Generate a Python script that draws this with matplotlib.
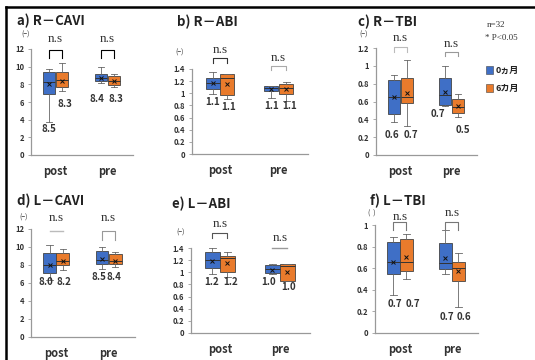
import numpy as np
import matplotlib
matplotlib.use('Agg')
import matplotlib.pyplot as plt
from matplotlib.ticker import FuncFormatter

plt.rcParams['font.family'] = ['Noto Sans CJK JP', 'DejaVu Sans']

# box stats: (whislo, q1, median, q3, whishi, mean)
# order: post 0m, post 6m, pre 0m, pre 6m
r_cavi = [(3.7, 6.9, 8.3, 9.4, 9.7, 8.0), (7.3, 7.7, 8.5, 9.4, 10.4, 8.4),
          (8.2, 8.4, 8.7, 9.2, 10.0, 8.7), (7.7, 7.9, 8.4, 9.0, 9.2, 8.4)]
r_abi = [(0.99, 1.07, 1.17, 1.25, 1.35, 1.17), (0.90, 0.97, 1.25, 1.32, 1.32, 1.15),
         (0.93, 1.04, 1.08, 1.12, 1.12, 1.07), (0.88, 0.99, 1.08, 1.15, 1.19, 1.07)]
r_tbi = [(0.37, 0.46, 0.65, 0.84, 0.90, 0.65), (0.33, 0.58, 0.65, 0.86, 1.06, 0.70),
         (0.55, 0.56, 0.67, 0.86, 1.00, 0.71), (0.43, 0.47, 0.54, 0.63, 0.68, 0.55)]
l_cavi = [(6.3, 7.1, 8.0, 9.3, 10.2, 8.0), (7.4, 8.0, 8.5, 9.3, 9.8, 8.4),
          (7.6, 8.1, 8.6, 9.6, 10.0, 8.7), (7.8, 8.1, 8.5, 9.2, 9.4, 8.5)]
l_abi = [(0.98, 1.07, 1.20, 1.33, 1.40, 1.19), (0.93, 1.00, 1.24, 1.27, 1.33, 1.16),
         (0.97, 0.99, 1.05, 1.12, 1.13, 1.04), (0.85, 0.85, 1.10, 1.13, 1.14, 1.00)]
l_tbi = [(0.35, 0.55, 0.66, 0.84, 0.89, 0.66), (0.50, 0.57, 0.66, 0.87, 0.92, 0.70),
         (0.55, 0.59, 0.65, 0.83, 0.95, 0.69), (0.24, 0.48, 0.60, 0.66, 0.74, 0.57)]

# value labels written under the boxes
r_cavi_labels = ['8.5', '8.3', '8.4', '8.3']
r_abi_labels = ['1.1', '1.1', '1.1', '1.1']
r_tbi_labels = ['0.6', '0.7', '0.7', '0.5']
l_cavi_labels = ['8.0', '8.2', '8.5', '8.4']
l_abi_labels = ['1.2', '1.2', '1.0', '1.0']
l_tbi_labels = ['0.7', '0.7', '0.7', '0.6']

titles = ['a) R－CAVI', 'b) R－ABI', 'c) R－TBI', 'd) L－CAVI', 'e) L－ABI', 'f) L－TBI']
groups = ['post', 'pre']
series = ['0ヵ月', '6カ月']
colors = ['#3F6FC6', '#E97B2C']

W, H = 535, 360
fig = plt.figure(figsize=(W / 100, H / 100), dpi=100)


def rect(x0, x1, y0, y1):
    # pixel box -> figure fraction
    return [x0 / W, 1 - y0 / H, (x1 - x0) / W, (y0 - y1) / H]


def text_px(x, y, s, **kw):
    fig.text(x / W, 1 - y / H, s, **kw)


# (stats, labels, axes pixel box, ymax, ystep, label positions, brackets)
panels = [
    (r_cavi, r_cavi_labels, (31, 133, 155, 49), 12, 2,
     [(-0.14, 2.9), (0.17, 5.8), (0.80, 6.3), (1.17, 6.3)],
     [(0, 13.1, 11.9, 11.0, 'k', True), (1, 13.1, 11.9, 11.0, 'k', True)]),
    (r_abi, r_abi_labels, (192, 308, 154, 69), 1.4, 0.2,
     [(-0.12, 0.86), (0.15, 0.77), (0.88, 0.79), (1.19, 0.79)],
     [(0, 1.71, 1.58, 1.50, '#333333', True), (1, 1.58, 1.45, 1.38, '#aaaaaa', True)]),
    (r_tbi, r_tbi_labels, (376, 477, 155, 48), 1.2, 0.2,
     [(-0.16, 0.22), (0.20, 0.22), (0.73, 0.46), (1.22, 0.28)],
     [(0, 1.31, 1.21, 1.15, '#bbbbbb', True), (1, 1.25, 1.16, 1.11, '#999999', True)]),
    (l_cavi, l_cavi_labels, (31, 135, 337, 229), 12, 2,
     [(-0.20, 6.1), (0.14, 6.1), (0.82, 6.7), (1.09, 6.7)],
     [(0, 13.2, 11.8, 11.8, '#bbbbbb', False), (1, 13.2, 11.8, 10.8, '#999999', True)]),
    (l_abi, l_abi_labels, (191, 310, 333, 248), 1.4, 0.2,
     [(-0.13, 0.84), (0.18, 0.84), (0.81, 0.84), (1.15, 0.76)],
     [(0, 1.80, 1.65, 1.56, '#555555', True), (1, 1.56, 1.40, 1.40, '#999999', False)]),
    (l_tbi, l_tbi_labels, (375, 478, 333, 225), 1.0, 0.2,
     [(-0.10, 0.27), (0.24, 0.27), (0.91, 0.15), (1.23, 0.15)],
     [(0, 1.07, 1.03, 0.95, '#777777', True), (1, 1.11, 1.03, 0.95, '#777777', True)]),
]

title_pos = [(17, 21), (177, 22), (358, 22), (17, 201), (172, 204), (370, 201)]
unit_pos = [(26, 35), (180, 53), (364, 35), (24, 218), (181, 233), (372, 214)]
offsets = [-0.125, 0.125, 0.875, 1.125]

for k, (stats, labels, box, ymax, ystep, lab_pos, brackets) in enumerate(panels):
    x0, x1, y0, y1 = box
    ax = fig.add_axes(rect(x0, x1, y0, y1))
    bxp_stats = []
    for s in stats:
        bxp_stats.append(dict(whislo=s[0], q1=s[1], med=s[2], q3=s[3],
                              whishi=s[4], mean=s[5], fliers=[]))
    bp = ax.bxp(bxp_stats, positions=offsets, widths=0.24, patch_artist=True,
                showmeans=True, showfliers=False,
                boxprops=dict(linewidth=0.6, edgecolor='#444444'),
                whiskerprops=dict(linewidth=0.6, color='#666666'),
                capprops=dict(linewidth=0.6, color='#666666'),
                medianprops=dict(linewidth=0.7, color='#333333'),
                meanprops=dict(marker='x', markersize=2.5, markeredgecolor='#111111',
                               markeredgewidth=0.7))
    for i, patch in enumerate(bp['boxes']):
        patch.set_facecolor(colors[i % 2])

    for (lx, ly), lab in zip(lab_pos, labels):
        ax.text(lx, ly, lab, ha='center', va='center', fontsize=7,
                fontweight='bold', color='#333333')

    for g, ty, top, bot, col, ticks in brackets:
        xa, xb = g - 0.125, g + 0.125
        if ticks:
            ax.plot([xa, xa, xb, xb], [bot, top, top, bot], color=col, lw=0.8,
                    clip_on=False)
        else:
            ax.plot([xa, xb], [top, top], color=col, lw=1.0, clip_on=False)
        ax.text(g, ty, 'n.s', ha='center', va='center', fontsize=9.5,
                family='Liberation Serif', color='#333333')

    ax.set_xlim(-0.48, 1.5)
    ax.set_ylim(0, ymax)
    ax.set_yticks(np.arange(0, ymax + ystep / 2, ystep))
    ax.yaxis.set_major_formatter(FuncFormatter(lambda v, p: '%g' % round(v, 2)))
    ax.set_xticks([0, 1])
    ax.set_xticklabels(groups, fontsize=8, fontweight='bold', color='#333333')
    ax.tick_params(axis='x', length=0, pad=7)
    ax.tick_params(axis='y', length=2, width=0.5, pad=3, labelsize=5.5,
                   colors='#888888', labelcolor='#333333')
    for t in ax.get_yticklabels():
        t.set_fontweight('bold')
    for side in ['top', 'right']:
        ax.spines[side].set_visible(False)
    for side in ['left', 'bottom']:
        ax.spines[side].set_color('#999999')
        ax.spines[side].set_linewidth(0.9)

    tx, ty = title_pos[k]
    text_px(tx, ty, titles[k], fontsize=9.5, fontweight='bold', va='center',
            color='#222222')
    ux, uy = unit_pos[k]
    text_px(ux, uy, '(−)' if k != 5 else '(  )', fontsize=5, ha='center',
            va='center', color='#333333')

# legend text at right
text_px(487, 25, 'n=32', fontsize=6.5, family='Liberation Serif', va='center',
        color='#333333')
text_px(485, 38, '* P<0.05', fontsize=6.5, family='Liberation Serif', va='center',
        color='#333333')
for i, (name, col) in enumerate(zip(series, colors)):
    yy = 70 + 18 * i
    fig.patches.append(plt.Rectangle(((486) / W, 1 - (yy + 3.5) / H), 7 / W, 7 / H,
                                     transform=fig.transFigure, facecolor=col,
                                     edgecolor='#444444', linewidth=0.4))
    text_px(496, yy, name, fontsize=6.5, fontweight='bold', va='center',
            color='#222222')

# frame lines on top and left
fig.add_artist(plt.Line2D([6 / W, 1], [1 - 7 / H, 1 - 7 / H], color='k', lw=1.8,
                          transform=fig.transFigure))
fig.add_artist(plt.Line2D([6 / W, 6 / W], [0, 1 - 7 / H], color='k', lw=1.8,
                          transform=fig.transFigure))

fig.savefig('out.png', dpi=100)
